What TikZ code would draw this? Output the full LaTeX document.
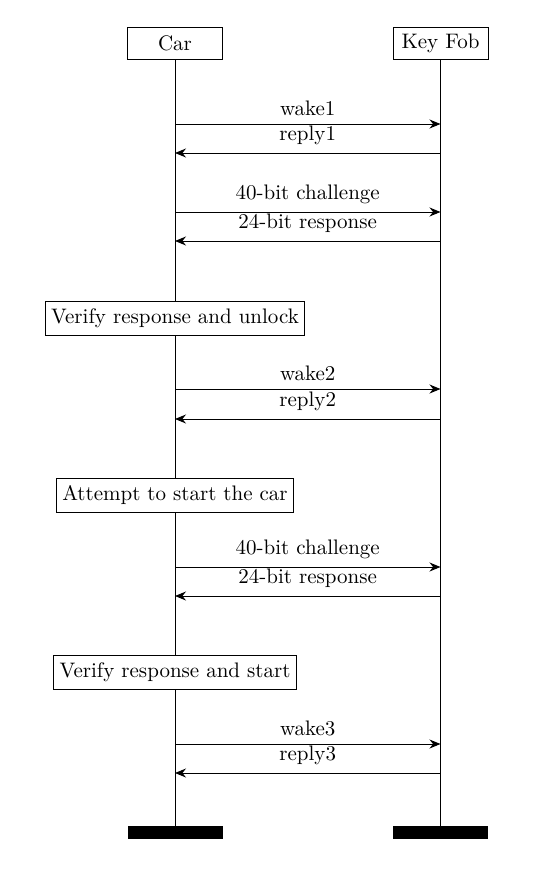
\documentclass[tikz,border=0pt]{standalone}
\usetikzlibrary{arrows.meta}
\begin{document}
\begin{tikzpicture}[x=0.5pt,y=-0.5pt,
  font=\fontsize{10.5}{12.6}\selectfont,
  actor/.style={draw,fill=white,line width=0.5pt,minimum width=47.5pt,minimum height=16pt,inner sep=2pt},
  procbox/.style={draw,fill=white,line width=0.5pt,minimum height=17pt,inner sep=3pt},
  endbar/.style={fill=black,minimum width=47.5pt,minimum height=6.5pt,inner sep=0pt},
  life/.style={line width=0.5pt},
  msg/.style={line width=0.5pt,-{Stealth[length=5.5pt,width=4.5pt,inset=1.8pt]}},
  lbl/.style={above,inner sep=4pt}]
\useasboundingbox (0,0) rectangle (548,873);
% lifeline ends
\node[endbar] (cend) at (175,832.5) {};
\node[endbar] (fend) at (440.5,832.5) {};
\draw[life] (175,43) -- (cend.north);
\draw[life] (440.5,43) -- (fend.north);
\node[actor] (car) at (175,43) {Car};
\node[actor] (fob) at (440.5,43) {Key Fob};
% messages
\foreach \n/\y in {1/124,2/153,3/212,4/241,5/389,6/419,7/567,8/596,9/744,10/773}{
  \coordinate (c\n) at (175,\y);
  \coordinate (f\n) at (440.5,\y);
}
\draw[msg] (c1) -- node[lbl] {wake1} (f1);
\draw[msg] (f2) -- node[lbl] {reply1} (c2);
\draw[msg] (c3) -- node[lbl] {40-bit challenge} (f3);
\draw[msg] (f4) -- node[lbl] {24-bit response} (c4);
\draw[msg] (c5) -- node[lbl] {wake2} (f5);
\draw[msg] (f6) -- node[lbl] {reply2} (c6);
\draw[msg] (c7) -- node[lbl] {40-bit challenge} (f7);
\draw[msg] (f8) -- node[lbl] {24-bit response} (c8);
\draw[msg] (c9) -- node[lbl] {wake3} (f9);
\draw[msg] (f10) -- node[lbl] {reply3} (c10);
% process boxes
\node[procbox] (p1) at (175,318) {Verify response and unlock};
\node[procbox] (p2) at (175,495) {Attempt to start the car};
\node[procbox] (p3) at (175,672.5) {Verify response and start};
\end{tikzpicture}
\end{document}
